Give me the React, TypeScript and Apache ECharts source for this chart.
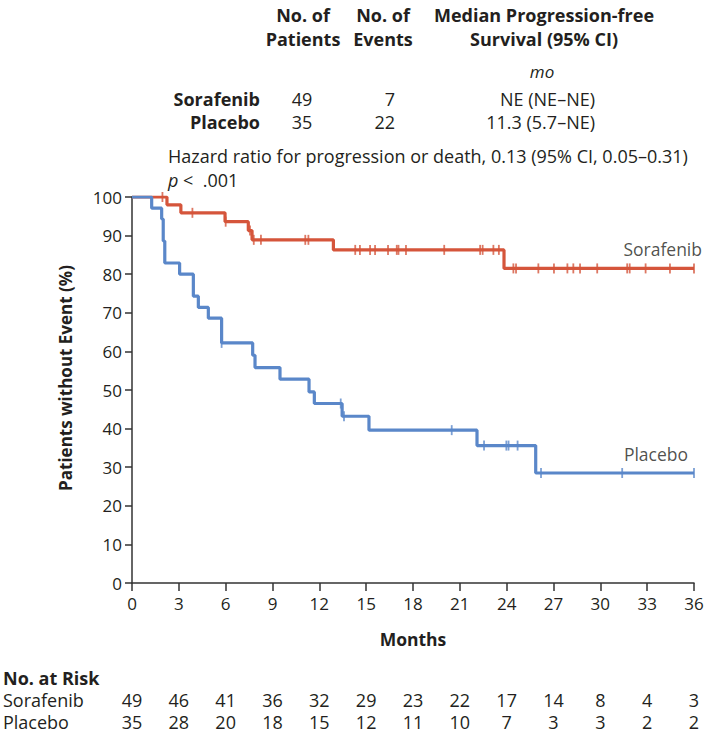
import React, { useEffect, useRef } from "react";
import * as echarts from "echarts";

// ---- Data ----
const sorafenibEventTimes = [0, 2.24, 3.13, 5.96, 7.45, 7.69, 12.9, 23.83, 36];
const sorafenibSurvival = [100, 97.96, 95.9, 93.6, 91.3, 88.9, 86.3, 81.5, 81.5];
const sorafenibCensorTimes = [
  1.95, 3.87, 6.0, 7.56, 7.8, 8.26, 11.1, 11.3, 14.3, 14.6, 15.25, 15.57, 16.4,
  16.96, 17.07, 17.55, 20.0, 22.3, 22.46, 23.15, 23.5, 24.43, 24.6, 26.03,
  27.03, 27.89, 28.27, 28.7, 29.8, 31.72, 31.88, 32.9, 34.46, 36.0,
];

const placeboEventTimes = [
  0, 1.26, 1.9, 2.0, 2.1, 3.05, 3.93, 4.25, 4.89, 5.74, 7.73, 7.88, 9.48, 11.34,
  11.68, 13.46, 15.18, 22.1, 25.86, 36,
];
const placeboSurvival = [
  100, 97.1, 94.3, 88.6, 82.9, 80.0, 74.3, 71.4, 68.6, 62.2, 59.0, 55.8, 52.8,
  49.5, 46.5, 43.2, 39.6, 35.6, 28.5, 28.5,
];
const placeboCensorTimes = [5.74, 13.37, 13.58, 20.48, 22.55, 23.98, 24.12, 24.7, 26.2, 31.4, 36.0];

const xTicks = [0, 3, 6, 9, 12, 15, 18, 21, 24, 27, 30, 33, 36];
const riskSorafenib = [49, 46, 41, 36, 32, 29, 23, 22, 17, 14, 8, 4, 3];
const riskPlacebo = [35, 28, 20, 18, 15, 12, 11, 10, 7, 3, 3, 2, 2];

const groupNames = ["Sorafenib", "Placebo"];
const groupPatients = [49, 35];
const groupEvents = [7, 22];
const groupMedian = ["NE (NE\u2013NE)", "11.3 (5.7\u2013NE)"];
const hazardText = "Hazard ratio for progression or death, 0.13 (95% CI, 0.05\u20130.31)";

// ---- Styles ----
const RED = "#D5553B";
const BLUE = "#5A87C9";
const TXT = "#231F20";
const FONT = "'Open Sans', 'Noto Sans', sans-serif";

function stepValue(times: number[], vals: number[], t: number) {
  let v = vals[0];
  for (let i = 0; i < times.length; i++) {
    if (times[i] <= t) v = vals[i];
  }
  return v;
}

export default function App() {
  const ref = useRef<HTMLDivElement>(null);
  useEffect(() => {
    if (!ref.current) return;
    const chart = echarts.init(ref.current, undefined, { renderer: "svg" });

    const censor = (times: number[], evT: number[], evV: number[], name: string, labelOffset: number[]) =>
      times.map((t, i) => {
        const item: any = { value: [t, stepValue(evT, evV, t)] };
        if (i === times.length - 1) {
          item.label = {
            show: true,
            formatter: name,
            position: "top",
            align: "right",
            distance: 5,
            offset: labelOffset,
            color: TXT,
            fontSize: 17.5,
            fontFamily: FONT,
          };
        }
        return item;
      });

    chart.setOption({
      animation: false,
      grid: { left: 132, right: 15, top: 197, bottom: 153 },
      xAxis: {
        type: "value",
        min: 0,
        max: 36,
        interval: 3,
        name: "Months",
        nameLocation: "middle",
        nameGap: 47,
        nameTextStyle: { fontSize: 17.5, fontWeight: "bold", color: TXT, fontFamily: FONT },
        axisLine: { lineStyle: { color: "#333", width: 1.5 } },
        axisTick: { length: 8, lineStyle: { color: "#333", width: 1.5 } },
        axisLabel: { fontSize: 17, color: TXT, fontFamily: FONT, margin: 12 },
        splitLine: { show: false },
      },
      yAxis: {
        type: "value",
        min: 0,
        max: 100,
        interval: 10,
        axisLine: { show: true, lineStyle: { color: "#333", width: 1.5 } },
        axisTick: { show: true, length: 7, lineStyle: { color: "#333", width: 1.5 } },
        axisLabel: { fontSize: 17, color: TXT, fontFamily: FONT, margin: 10 },
        splitLine: { show: false },
      },
      series: [
        {
          type: "line",
          step: "end",
          showSymbol: false,
          data: sorafenibEventTimes.map((t, i) => [t, sorafenibSurvival[i]]),
          lineStyle: { color: RED, width: 3.2 },
          itemStyle: { color: RED },
          z: 3,
        },
        {
          type: "line",
          step: "end",
          showSymbol: false,
          data: placeboEventTimes.map((t, i) => [t, placeboSurvival[i]]),
          lineStyle: { color: BLUE, width: 3.2 },
          itemStyle: { color: BLUE },
          z: 3,
        },
        {
          type: "scatter",
          symbol: "rect",
          symbolSize: [1.8, 10],
          itemStyle: { color: RED },
          data: censor(sorafenibCensorTimes, sorafenibEventTimes, sorafenibSurvival, "Sorafenib", [8, 0]),
          z: 4,
        },
        {
          type: "scatter",
          symbol: "rect",
          symbolSize: [1.8, 10],
          itemStyle: { color: BLUE },
          data: censor(placeboCensorTimes, placeboEventTimes, placeboSurvival, "Placebo", [-6, 0]),
          z: 4,
        },
      ],
    });

    const g: any[] = [];
    const txt = (text: string, x: number, y: number, opts: any = {}) =>
      g.push({
        type: "text",
        x,
        y,
        rotation: opts.rotation || 0,
        silent: true,
        style: {
          text,
          fill: TXT,
          fontSize: opts.fontSize || 18,
          fontWeight: opts.fontWeight || "normal",
          fontStyle: opts.fontStyle || "normal",
          fontFamily: FONT,
          align: opts.align || "left",
          verticalAlign: "middle",
        },
      });

    // Y axis title
    txt("Patients without Event (%)", 65, 378, { fontWeight: "bold", fontSize: 17, align: "center", rotation: Math.PI / 2 });

    // Header table
    const hb = { fontWeight: "bold", fontSize: 18, align: "center" };
    txt("No. of", 303, 15, hb);
    txt("Patients", 303, 39, hb);
    txt("No. of", 383, 15, hb);
    txt("Events", 383, 39, hb);
    txt("Median Progression-free", 544, 15, hb);
    txt("Survival (95% CI)", 544, 39, hb);
    txt("mo", 542, 71, { fontStyle: "italic", fontSize: 17, align: "center" });
    const rowY = [99, 122];
    groupNames.forEach((n, i) => {
      txt(n, 260, rowY[i], { fontWeight: "bold", fontSize: 18, align: "right" });
      txt(String(groupPatients[i]), 302, rowY[i], { align: "center" });
      txt(String(groupEvents[i]), 395, rowY[i], { align: "right" });
      txt(groupMedian[i], 595, rowY[i], { align: "right" });
    });
    txt(hazardText, 168, 156, {});
    g.push({
      type: "text",
      x: 168,
      y: 180,
      silent: true,
      style: {
        text: "{i|p} <  .001",
        rich: { i: { fontStyle: "italic", fontSize: 18, fontFamily: FONT, fill: TXT } },
        fill: TXT,
        fontSize: 18,
        fontFamily: FONT,
        align: "left",
        verticalAlign: "middle",
      },
    });

    // Risk table
    txt("No. at Risk", 3, 678, { fontWeight: "bold", fontSize: 18 });
    txt("Sorafenib", 3, 700, {});
    txt("Placebo", 3, 722, {});
    xTicks.forEach((t, i) => {
      const px = chart.convertToPixel({ xAxisIndex: 0 }, t) as number;
      txt(String(riskSorafenib[i]), px, 700, { align: "center" });
      txt(String(riskPlacebo[i]), px, 722, { align: "center" });
    });

    chart.setOption({ graphic: g });

    return () => chart.dispose();
  }, []);

  return (
    <div
      ref={ref}
      style={{ position: "absolute", left: 0, top: 0, width: 709, height: 736, background: "#fff" }}
    />
  );
}
